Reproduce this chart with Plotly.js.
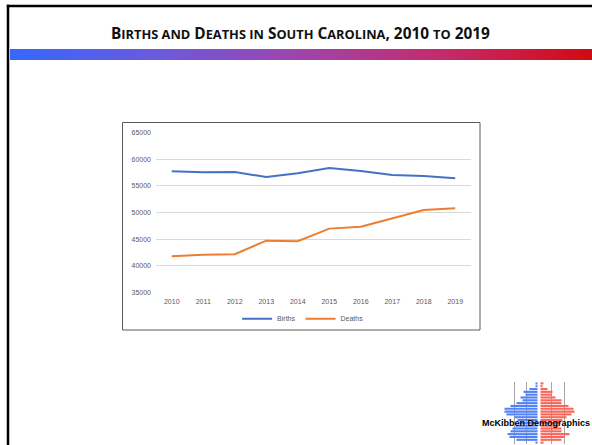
<!DOCTYPE html>
<html>
<head>
<meta charset="utf-8">
<script src="https://cdn.plot.ly/plotly-3.0.1.min.js"></script>
<style>
html,body{margin:0;padding:0;background:#fff;}
#chart{width:592px;height:445px;}
</style>
</head>
<body>
<div id="chart"></div>
<script>
// ---- chart data ----
const years = ['2010','2011','2012','2013','2014','2015','2016','2017','2018','2019'];
const births = [57740, 57550, 57610, 56670, 57360, 58360, 57800, 57050, 56860, 56420];
const deaths = [41770, 42080, 42150, 44710, 44590, 46970, 47340, 48970, 50470, 50790];
const yTicks = [35000, 40000, 45000, 50000, 55000, 60000, 65000];

// ---- logo (population pyramid) data ----
const pyramidRows = ['r1','r2','r3','r4','r5','r6','r7','r8','r9','r10','r11','r12','r13','r14','r15','r16','r17','r18','r19','r20','r21','r22'];
const pyramidLeft  = [2, 2, 8, 14, 12, 17, 15, 21, 27, 33, 33, 31, 23, 20, 18, 22, 25, 27, 30, 28, 21, 2];
const pyramidRight = [3, 2, 7, 12, 11, 15, 21, 21, 28, 33, 34, 31, 26, 22, 20, 18, 21, 21, 29, 24, 21, 3];
const pyramidGrid = [-25, -12.5, 12.5, 25];

const W = 592, H = 445;
const px = v => v / W;
const py = v => (H - v) / H;

const traces = [
  {
    type: 'scatter', mode: 'lines', name: 'Births',
    x: years, y: births, xaxis: 'x', yaxis: 'y',
    line: {color: '#4472C4', width: 2}, hoverinfo: 'skip'
  },
  {
    type: 'scatter', mode: 'lines', name: 'Deaths',
    x: years, y: deaths, xaxis: 'x', yaxis: 'y',
    line: {color: '#ED7D31', width: 2}, hoverinfo: 'skip'
  },
  // gradient banner
  {
    type: 'heatmap', x: [0, 1], y: [0, 1], z: [[0, 1], [0, 1]],
    xaxis: 'x3', yaxis: 'y3', zsmooth: 'best', showscale: false, hoverinfo: 'skip',
    colorscale: [[0, '#3568fb'], [0.25, '#6b5ade'], [0.5, '#a044ab'], [0.75, '#c52a6a'], [1, '#d10a12']],
    showlegend: false
  },
  // logo pyramid
  {
    type: 'bar', orientation: 'h', y: pyramidRows, x: pyramidLeft.map(v => -v), base: -1.5,
    xaxis: 'x4', yaxis: 'y4', marker: {color: '#5282f7'}, showlegend: false, hoverinfo: 'skip'
  },
  {
    type: 'bar', orientation: 'h', y: pyramidRows, x: pyramidRight, base: 1.5,
    xaxis: 'x4', yaxis: 'y4', marker: {color: '#f7675a'}, showlegend: false, hoverinfo: 'skip'
  }
];

const sc = s => '<span style="font-size:12.8px">' + s + '</span>';

const layout = {
  width: W, height: H,
  margin: {l: 0, r: 0, t: 0, b: 0},
  paper_bgcolor: '#ffffff', plot_bgcolor: 'rgba(0,0,0,0)',
  showlegend: true,
  barmode: 'overlay', bargap: 0.25,
  font: {family: 'Liberation Sans, Arial, sans-serif', color: '#595959', size: 7},
  xaxis: {
    type: 'category', domain: [px(156), px(471)], anchor: 'y',
    range: [-0.5, 9.5], showgrid: false, zeroline: false, showline: false,
    ticks: '', ticklabelstandoff: 4,
    tickfont: {size: 7, color: '#595959'}
  },
  yaxis: {
    domain: [py(292.3), py(132.7)], anchor: 'x',
    range: [35000, 65000], tickvals: yTicks, ticktext: yTicks.map(String),
    showgrid: true, gridcolor: '#d9d9d9', gridwidth: 1, zeroline: false, showline: false,
    ticks: '', ticklabelstandoff: 4,
    tickfont: {size: 7, color: '#595959'}
  },
  xaxis3: {domain: [px(10), 1], anchor: 'y3', range: [0, 1], visible: false, fixedrange: true},
  yaxis3: {domain: [py(60), py(49)], anchor: 'x3', range: [0, 1], visible: false, fixedrange: true},
  xaxis4: {
    domain: [px(499), px(579)], anchor: 'y4', range: [-40, 40],
    tickvals: pyramidGrid, showticklabels: false, ticks: '',
    showgrid: true, gridcolor: '#a6a6a6', gridwidth: 1, zeroline: false, showline: false
  },
  yaxis4: {
    domain: [py(444), py(382)], anchor: 'x4', type: 'category', autorange: 'reversed',
    showgrid: false, showticklabels: false, ticks: '', zeroline: false, showline: false
  },
  legend: {
    orientation: 'h', x: 0.512, xanchor: 'center', y: py(318.7), yanchor: 'middle',
    font: {size: 7, color: '#595959'}, bgcolor: 'rgba(0,0,0,0)',
    itemwidth: 30, tracegroupgap: 0
  },
  shapes: [
    // slide frame
    {type: 'line', xref: 'paper', yref: 'paper', x0: px(8), x1: px(8), y0: 0, y1: py(4.8), line: {color: '#000000', width: 2.5}},
    {type: 'line', xref: 'paper', yref: 'paper', x0: px(6.8), x1: 1, y0: py(6), y1: py(6), line: {color: '#000000', width: 2.5}},
    // chart box
    {type: 'rect', xref: 'paper', yref: 'paper', x0: px(122.5), x1: px(480), y0: py(330), y1: py(122.5), line: {color: '#5a5a5a', width: 1}, fillcolor: 'rgba(0,0,0,0)'}
  ],
  annotations: [
    {
      xref: 'paper', yref: 'paper', x: px(300.5), y: py(33.5), xanchor: 'center', yanchor: 'middle', showarrow: false,
      font: {family: 'Open Sans, Liberation Sans, Arial, sans-serif', size: 15.4, color: '#111111'},
      text: '<b>B' + sc('IRTHS AND') + ' D' + sc('EATHS IN') + ' S' + sc('OUTH') + ' C' + sc('AROLINA') + ', 2010 ' + sc('TO') + ' 2019</b>'
    },
    {
      xref: 'paper', yref: 'paper', x: px(536), y: py(423), xanchor: 'center', yanchor: 'middle', showarrow: false,
      font: {family: 'Liberation Sans, Arial, sans-serif', size: 9, color: '#000000'},
      text: '<b>McKibben Demographics</b>'
    }
  ]
};

Plotly.newPlot('chart', traces, layout, {staticPlot: true, displayModeBar: false});
</script>
</body>
</html>
